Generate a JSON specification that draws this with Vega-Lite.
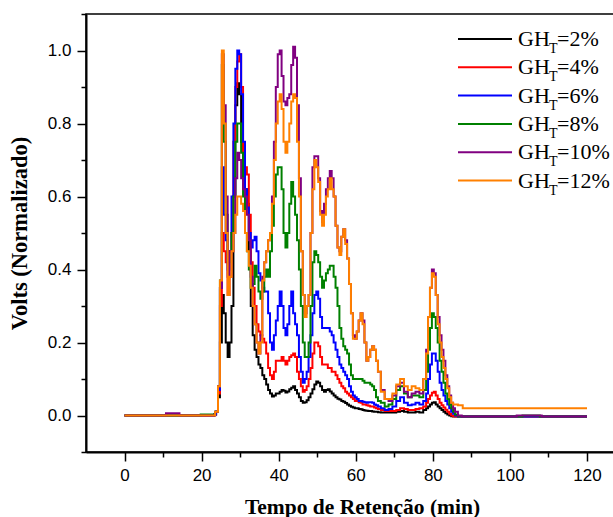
{
  "$schema": "https://vega.github.io/schema/vega-lite/v6.json",
  "width": 528,
  "height": 438,
  "autosize": {"type": "none"},
  "padding": {"left": 86, "top": 14, "right": 0, "bottom": 65},
  "background": "white",
  "config": {
    "view": {"stroke": "black", "strokeWidth": 1.5},
    "axis": {"grid": false, "domainColor": "black", "domainWidth": 2, "tickColor": "black", "tickWidth": 1.5, "labelColor": "black", "titleColor": "black"}
  },
  "data": {"values": [
    {"gh":2,"t":0,"v":0},{"gh":2,"t":23,"v":0},{"gh":2,"t":23.5,"v":0.003},
    {"gh":2,"t":24,"v":0.01},{"gh":2,"t":24.5,"v":0.05},{"gh":2,"t":25,"v":0.2},{"gh":2,"t":25.5,"v":0.33},{"gh":2,"t":26,"v":0.28},{"gh":2,"t":26.5,"v":0.2},{"gh":2,"t":27,"v":0.16},{"gh":2,"t":27.5,"v":0.2},{"gh":2,"t":28,"v":0.3},{"gh":2,"t":28.5,"v":0.6},{"gh":2,"t":29,"v":0.85},{"gh":2,"t":29.5,"v":0.91},{"gh":2,"t":30,"v":0.88},{"gh":2,"t":30.5,"v":0.75},{"gh":2,"t":31,"v":0.65},{"gh":2,"t":31.5,"v":0.62},{"gh":2,"t":32,"v":0.58},{"gh":2,"t":32.5,"v":0.45},{"gh":2,"t":33,"v":0.3},{"gh":2,"t":33.5,"v":0.22},{"gh":2,"t":34,"v":0.18},{"gh":2,"t":34.5,"v":0.16},{"gh":2,"t":35,"v":0.14},{"gh":2,"t":35.5,"v":0.13},{"gh":2,"t":36,"v":0.11},{"gh":2,"t":36.5,"v":0.1},{"gh":2,"t":37,"v":0.085},{"gh":2,"t":37.5,"v":0.07},{"gh":2,"t":38,"v":0.06},{"gh":2,"t":38.5,"v":0.052},{"gh":2,"t":39,"v":0.055},{"gh":2,"t":39.5,"v":0.06},{"gh":2,"t":40,"v":0.06},{"gh":2,"t":40.5,"v":0.065},{"gh":2,"t":41,"v":0.07},{"gh":2,"t":41.5,"v":0.068},{"gh":2,"t":42,"v":0.063},{"gh":2,"t":42.5,"v":0.066},{"gh":2,"t":43,"v":0.072},{"gh":2,"t":43.5,"v":0.076},{"gh":2,"t":44,"v":0.08},{"gh":2,"t":44.5,"v":0.07},{"gh":2,"t":45,"v":0.06},{"gh":2,"t":45.5,"v":0.05},{"gh":2,"t":46,"v":0.04},{"gh":2,"t":46.5,"v":0.035},{"gh":2,"t":47,"v":0.036},{"gh":2,"t":47.5,"v":0.042},{"gh":2,"t":48,"v":0.05},{"gh":2,"t":48.5,"v":0.06},{"gh":2,"t":49,"v":0.072},{"gh":2,"t":49.5,"v":0.085},{"gh":2,"t":50,"v":0.093},{"gh":2,"t":50.5,"v":0.09},{"gh":2,"t":51,"v":0.08},{"gh":2,"t":51.5,"v":0.07},{"gh":2,"t":52,"v":0.065},{"gh":2,"t":52.5,"v":0.07},{"gh":2,"t":53,"v":0.072},{"gh":2,"t":53.5,"v":0.066},{"gh":2,"t":54,"v":0.06},{"gh":2,"t":54.5,"v":0.055},{"gh":2,"t":55,"v":0.05},{"gh":2,"t":55.5,"v":0.046},{"gh":2,"t":56,"v":0.044},{"gh":2,"t":56.5,"v":0.04},{"gh":2,"t":57,"v":0.038},{"gh":2,"t":57.5,"v":0.034},{"gh":2,"t":58,"v":0.03},{"gh":2,"t":58.5,"v":0.027},{"gh":2,"t":59,"v":0.024},{"gh":2,"t":59.5,"v":0.022},{"gh":2,"t":60,"v":0.02},{"gh":2,"t":60.5,"v":0.02},{"gh":2,"t":61,"v":0.018},{"gh":2,"t":61.5,"v":0.017},{"gh":2,"t":62,"v":0.015},{"gh":2,"t":62.5,"v":0.014},{"gh":2,"t":63,"v":0.013},{"gh":2,"t":63.5,"v":0.012},{"gh":2,"t":64,"v":0.012},{"gh":2,"t":64.5,"v":0.011},{"gh":2,"t":65,"v":0.01},{"gh":2,"t":65.5,"v":0.01},{"gh":2,"t":66,"v":0.009},{"gh":2,"t":67,"v":0.008},{"gh":2,"t":68,"v":0.008},{"gh":2,"t":69,"v":0.008},{"gh":2,"t":70,"v":0.008},{"gh":2,"t":71,"v":0.01},{"gh":2,"t":72,"v":0.012},{"gh":2,"t":73,"v":0.01},{"gh":2,"t":74,"v":0.008},{"gh":2,"t":75,"v":0.008},{"gh":2,"t":76,"v":0.01},{"gh":2,"t":77,"v":0.008},{"gh":2,"t":78,"v":0.015},{"gh":2,"t":78.5,"v":0.02},{"gh":2,"t":79,"v":0.025},{"gh":2,"t":79.5,"v":0.03},{"gh":2,"t":80,"v":0.035},{"gh":2,"t":80.5,"v":0.036},{"gh":2,"t":81,"v":0.03},{"gh":2,"t":81.5,"v":0.025},{"gh":2,"t":82,"v":0.02},{"gh":2,"t":82.5,"v":0.015},{"gh":2,"t":83,"v":0.01},{"gh":2,"t":83.5,"v":0.006},{"gh":2,"t":84,"v":0.003},{"gh":2,"t":84.5,"v":0},{"gh":2,"t":85,"v":-0.002},{"gh":2,"t":85.5,"v":-0.003},{"gh":2,"t":86,"v":-0.003},{"gh":2,"t":87,"v":-0.003},{"gh":2,"t":120,"v":-0.003},

    {"gh":4,"t":0,"v":0},{"gh":4,"t":23,"v":0},{"gh":4,"t":23.5,"v":0.003},
    {"gh":4,"t":24,"v":0.01},{"gh":4,"t":24.5,"v":0.06},{"gh":4,"t":25,"v":0.3},{"gh":4,"t":25.5,"v":0.5},{"gh":4,"t":26,"v":0.45},{"gh":4,"t":26.5,"v":0.42},{"gh":4,"t":27,"v":0.33},{"gh":4,"t":27.5,"v":0.38},{"gh":4,"t":28,"v":0.5},{"gh":4,"t":28.5,"v":0.75},{"gh":4,"t":29,"v":0.9},{"gh":4,"t":29.5,"v":0.97},{"gh":4,"t":30,"v":0.99},{"gh":4,"t":30.5,"v":0.9},{"gh":4,"t":31,"v":0.72},{"gh":4,"t":31.5,"v":0.68},{"gh":4,"t":32,"v":0.66},{"gh":4,"t":32.5,"v":0.55},{"gh":4,"t":33,"v":0.42},{"gh":4,"t":33.5,"v":0.35},{"gh":4,"t":34,"v":0.3},{"gh":4,"t":34.5,"v":0.25},{"gh":4,"t":35,"v":0.23},{"gh":4,"t":35.5,"v":0.22},{"gh":4,"t":36,"v":0.21},{"gh":4,"t":36.5,"v":0.2},{"gh":4,"t":37,"v":0.17},{"gh":4,"t":37.5,"v":0.13},{"gh":4,"t":38,"v":0.11},{"gh":4,"t":38.5,"v":0.1},{"gh":4,"t":39,"v":0.12},{"gh":4,"t":39.5,"v":0.15},{"gh":4,"t":40,"v":0.15},{"gh":4,"t":40.5,"v":0.15},{"gh":4,"t":41,"v":0.16},{"gh":4,"t":41.5,"v":0.15},{"gh":4,"t":42,"v":0.14},{"gh":4,"t":42.5,"v":0.15},{"gh":4,"t":43,"v":0.16},{"gh":4,"t":43.5,"v":0.165},{"gh":4,"t":44,"v":0.17},{"gh":4,"t":44.5,"v":0.16},{"gh":4,"t":45,"v":0.12},{"gh":4,"t":45.5,"v":0.1},{"gh":4,"t":46,"v":0.08},{"gh":4,"t":46.5,"v":0.065},{"gh":4,"t":47,"v":0.07},{"gh":4,"t":47.5,"v":0.08},{"gh":4,"t":48,"v":0.1},{"gh":4,"t":48.5,"v":0.13},{"gh":4,"t":49,"v":0.17},{"gh":4,"t":49.5,"v":0.2},{"gh":4,"t":50,"v":0.2},{"gh":4,"t":50.5,"v":0.19},{"gh":4,"t":51,"v":0.16},{"gh":4,"t":51.5,"v":0.14},{"gh":4,"t":52,"v":0.14},{"gh":4,"t":52.5,"v":0.14},{"gh":4,"t":53,"v":0.13},{"gh":4,"t":53.5,"v":0.13},{"gh":4,"t":54,"v":0.12},{"gh":4,"t":54.5,"v":0.12},{"gh":4,"t":55,"v":0.11},{"gh":4,"t":55.5,"v":0.1},{"gh":4,"t":56,"v":0.09},{"gh":4,"t":56.5,"v":0.08},{"gh":4,"t":57,"v":0.075},{"gh":4,"t":57.5,"v":0.065},{"gh":4,"t":58,"v":0.06},{"gh":4,"t":58.5,"v":0.055},{"gh":4,"t":59,"v":0.05},{"gh":4,"t":59.5,"v":0.045},{"gh":4,"t":60,"v":0.04},{"gh":4,"t":60.5,"v":0.04},{"gh":4,"t":61,"v":0.036},{"gh":4,"t":61.5,"v":0.035},{"gh":4,"t":62,"v":0.03},{"gh":4,"t":62.5,"v":0.03},{"gh":4,"t":63,"v":0.028},{"gh":4,"t":63.5,"v":0.027},{"gh":4,"t":64,"v":0.025},{"gh":4,"t":64.5,"v":0.025},{"gh":4,"t":65,"v":0.022},{"gh":4,"t":65.5,"v":0.02},{"gh":4,"t":66,"v":0.018},{"gh":4,"t":67,"v":0.015},{"gh":4,"t":68,"v":0.012},{"gh":4,"t":69,"v":0.012},{"gh":4,"t":70,"v":0.012},{"gh":4,"t":71,"v":0.015},{"gh":4,"t":72,"v":0.02},{"gh":4,"t":73,"v":0.018},{"gh":4,"t":74,"v":0.015},{"gh":4,"t":75,"v":0.015},{"gh":4,"t":76,"v":0.018},{"gh":4,"t":77,"v":0.02},{"gh":4,"t":78,"v":0.025},{"gh":4,"t":78.5,"v":0.035},{"gh":4,"t":79,"v":0.045},{"gh":4,"t":79.5,"v":0.055},{"gh":4,"t":80,"v":0.062},{"gh":4,"t":80.5,"v":0.065},{"gh":4,"t":81,"v":0.055},{"gh":4,"t":81.5,"v":0.045},{"gh":4,"t":82,"v":0.035},{"gh":4,"t":82.5,"v":0.028},{"gh":4,"t":83,"v":0.022},{"gh":4,"t":83.5,"v":0.016},{"gh":4,"t":84,"v":0.01},{"gh":4,"t":84.5,"v":0.005},{"gh":4,"t":85,"v":0},{"gh":4,"t":85.5,"v":-0.002},{"gh":4,"t":86,"v":-0.003},{"gh":4,"t":87,"v":-0.003},{"gh":4,"t":120,"v":-0.003},

    {"gh":6,"t":0,"v":0},{"gh":6,"t":23,"v":0},{"gh":6,"t":23.5,"v":0.003},
    {"gh":6,"t":24,"v":0.01},{"gh":6,"t":24.5,"v":0.07},{"gh":6,"t":25,"v":0.35},{"gh":6,"t":25.5,"v":0.68},{"gh":6,"t":26,"v":0.55},{"gh":6,"t":26.5,"v":0.48},{"gh":6,"t":27,"v":0.4},{"gh":6,"t":27.5,"v":0.45},{"gh":6,"t":28,"v":0.6},{"gh":6,"t":28.5,"v":0.8},{"gh":6,"t":29,"v":0.95},{"gh":6,"t":29.5,"v":1.0},{"gh":6,"t":30,"v":0.99},{"gh":6,"t":30.5,"v":0.88},{"gh":6,"t":31,"v":0.75},{"gh":6,"t":31.5,"v":0.62},{"gh":6,"t":32,"v":0.57},{"gh":6,"t":32.5,"v":0.5},{"gh":6,"t":33,"v":0.46},{"gh":6,"t":33.5,"v":0.48},{"gh":6,"t":34,"v":0.49},{"gh":6,"t":34.5,"v":0.45},{"gh":6,"t":35,"v":0.39},{"gh":6,"t":35.5,"v":0.37},{"gh":6,"t":36,"v":0.35},{"gh":6,"t":36.5,"v":0.34},{"gh":6,"t":37,"v":0.34},{"gh":6,"t":37.5,"v":0.28},{"gh":6,"t":38,"v":0.2},{"gh":6,"t":38.5,"v":0.18},{"gh":6,"t":39,"v":0.22},{"gh":6,"t":39.5,"v":0.26},{"gh":6,"t":40,"v":0.3},{"gh":6,"t":40.5,"v":0.34},{"gh":6,"t":41,"v":0.3},{"gh":6,"t":41.5,"v":0.24},{"gh":6,"t":42,"v":0.22},{"gh":6,"t":42.5,"v":0.25},{"gh":6,"t":43,"v":0.3},{"gh":6,"t":43.5,"v":0.34},{"gh":6,"t":44,"v":0.28},{"gh":6,"t":44.5,"v":0.25},{"gh":6,"t":45,"v":0.22},{"gh":6,"t":45.5,"v":0.16},{"gh":6,"t":46,"v":0.12},{"gh":6,"t":46.5,"v":0.09},{"gh":6,"t":47,"v":0.1},{"gh":6,"t":47.5,"v":0.12},{"gh":6,"t":48,"v":0.16},{"gh":6,"t":48.5,"v":0.22},{"gh":6,"t":49,"v":0.28},{"gh":6,"t":49.5,"v":0.33},{"gh":6,"t":50,"v":0.34},{"gh":6,"t":50.5,"v":0.32},{"gh":6,"t":51,"v":0.27},{"gh":6,"t":51.5,"v":0.24},{"gh":6,"t":52,"v":0.24},{"gh":6,"t":52.5,"v":0.24},{"gh":6,"t":53,"v":0.24},{"gh":6,"t":53.5,"v":0.23},{"gh":6,"t":54,"v":0.22},{"gh":6,"t":54.5,"v":0.2},{"gh":6,"t":55,"v":0.18},{"gh":6,"t":55.5,"v":0.16},{"gh":6,"t":56,"v":0.14},{"gh":6,"t":56.5,"v":0.13},{"gh":6,"t":57,"v":0.12},{"gh":6,"t":57.5,"v":0.11},{"gh":6,"t":58,"v":0.1},{"gh":6,"t":58.5,"v":0.08},{"gh":6,"t":59,"v":0.065},{"gh":6,"t":59.5,"v":0.055},{"gh":6,"t":60,"v":0.05},{"gh":6,"t":60.5,"v":0.045},{"gh":6,"t":61,"v":0.04},{"gh":6,"t":61.5,"v":0.04},{"gh":6,"t":62,"v":0.038},{"gh":6,"t":62.5,"v":0.036},{"gh":6,"t":63,"v":0.035},{"gh":6,"t":63.5,"v":0.036},{"gh":6,"t":64,"v":0.036},{"gh":6,"t":64.5,"v":0.035},{"gh":6,"t":65,"v":0.03},{"gh":6,"t":65.5,"v":0.028},{"gh":6,"t":66,"v":0.025},{"gh":6,"t":67,"v":0.02},{"gh":6,"t":68,"v":0.015},{"gh":6,"t":69,"v":0.018},{"gh":6,"t":70,"v":0.025},{"gh":6,"t":71,"v":0.04},{"gh":6,"t":72,"v":0.05},{"gh":6,"t":73,"v":0.035},{"gh":6,"t":74,"v":0.028},{"gh":6,"t":75,"v":0.03},{"gh":6,"t":76,"v":0.035},{"gh":6,"t":77,"v":0.03},{"gh":6,"t":78,"v":0.04},{"gh":6,"t":78.5,"v":0.06},{"gh":6,"t":79,"v":0.1},{"gh":6,"t":79.5,"v":0.14},{"gh":6,"t":80,"v":0.17},{"gh":6,"t":80.5,"v":0.17},{"gh":6,"t":81,"v":0.15},{"gh":6,"t":81.5,"v":0.12},{"gh":6,"t":82,"v":0.09},{"gh":6,"t":82.5,"v":0.07},{"gh":6,"t":83,"v":0.055},{"gh":6,"t":83.5,"v":0.04},{"gh":6,"t":84,"v":0.03},{"gh":6,"t":84.5,"v":0.02},{"gh":6,"t":85,"v":0.01},{"gh":6,"t":85.5,"v":0.005},{"gh":6,"t":86,"v":0},{"gh":6,"t":87,"v":-0.003},{"gh":6,"t":120,"v":-0.003},

    {"gh":8,"t":0,"v":0},{"gh":8,"t":19.5,"v":0},{"gh":8,"t":20,"v":0.003},{"gh":8,"t":23,"v":0.003},
    {"gh":8,"t":24,"v":0.01},{"gh":8,"t":24.5,"v":0.08},{"gh":8,"t":25,"v":0.37},{"gh":8,"t":25.5,"v":0.96},{"gh":8,"t":26,"v":0.75},{"gh":8,"t":26.5,"v":0.55},{"gh":8,"t":27,"v":0.42},{"gh":8,"t":27.5,"v":0.45},{"gh":8,"t":28,"v":0.5},{"gh":8,"t":28.5,"v":0.6},{"gh":8,"t":29,"v":0.75},{"gh":8,"t":29.5,"v":0.8},{"gh":8,"t":30,"v":0.8},{"gh":8,"t":30.5,"v":0.72},{"gh":8,"t":31,"v":0.6},{"gh":8,"t":31.5,"v":0.5},{"gh":8,"t":32,"v":0.45},{"gh":8,"t":32.5,"v":0.4},{"gh":8,"t":33,"v":0.35},{"gh":8,"t":33.5,"v":0.36},{"gh":8,"t":34,"v":0.41},{"gh":8,"t":34.5,"v":0.38},{"gh":8,"t":35,"v":0.34},{"gh":8,"t":35.5,"v":0.32},{"gh":8,"t":36,"v":0.34},{"gh":8,"t":36.5,"v":0.38},{"gh":8,"t":37,"v":0.4},{"gh":8,"t":37.5,"v":0.38},{"gh":8,"t":38,"v":0.45},{"gh":8,"t":38.5,"v":0.52},{"gh":8,"t":39,"v":0.6},{"gh":8,"t":39.5,"v":0.66},{"gh":8,"t":40,"v":0.68},{"gh":8,"t":40.5,"v":0.68},{"gh":8,"t":41,"v":0.62},{"gh":8,"t":41.5,"v":0.5},{"gh":8,"t":42,"v":0.46},{"gh":8,"t":42.5,"v":0.5},{"gh":8,"t":43,"v":0.58},{"gh":8,"t":43.5,"v":0.64},{"gh":8,"t":44,"v":0.6},{"gh":8,"t":44.5,"v":0.55},{"gh":8,"t":45,"v":0.48},{"gh":8,"t":45.5,"v":0.4},{"gh":8,"t":46,"v":0.3},{"gh":8,"t":46.5,"v":0.2},{"gh":8,"t":47,"v":0.16},{"gh":8,"t":47.5,"v":0.16},{"gh":8,"t":48,"v":0.2},{"gh":8,"t":48.5,"v":0.3},{"gh":8,"t":49,"v":0.42},{"gh":8,"t":49.5,"v":0.45},{"gh":8,"t":50,"v":0.44},{"gh":8,"t":50.5,"v":0.42},{"gh":8,"t":51,"v":0.38},{"gh":8,"t":51.5,"v":0.35},{"gh":8,"t":52,"v":0.37},{"gh":8,"t":52.5,"v":0.39},{"gh":8,"t":53,"v":0.4},{"gh":8,"t":53.5,"v":0.41},{"gh":8,"t":54,"v":0.41},{"gh":8,"t":54.5,"v":0.38},{"gh":8,"t":55,"v":0.35},{"gh":8,"t":55.5,"v":0.3},{"gh":8,"t":56,"v":0.24},{"gh":8,"t":56.5,"v":0.21},{"gh":8,"t":57,"v":0.19},{"gh":8,"t":57.5,"v":0.18},{"gh":8,"t":58,"v":0.17},{"gh":8,"t":58.5,"v":0.14},{"gh":8,"t":59,"v":0.11},{"gh":8,"t":59.5,"v":0.1},{"gh":8,"t":60,"v":0.1},{"gh":8,"t":60.5,"v":0.1},{"gh":8,"t":61,"v":0.1},{"gh":8,"t":61.5,"v":0.1},{"gh":8,"t":62,"v":0.095},{"gh":8,"t":62.5,"v":0.09},{"gh":8,"t":63,"v":0.09},{"gh":8,"t":63.5,"v":0.09},{"gh":8,"t":64,"v":0.085},{"gh":8,"t":64.5,"v":0.08},{"gh":8,"t":65,"v":0.07},{"gh":8,"t":65.5,"v":0.05},{"gh":8,"t":66,"v":0.04},{"gh":8,"t":67,"v":0.035},{"gh":8,"t":68,"v":0.025},{"gh":8,"t":69,"v":0.03},{"gh":8,"t":70,"v":0.045},{"gh":8,"t":71,"v":0.07},{"gh":8,"t":72,"v":0.08},{"gh":8,"t":73,"v":0.06},{"gh":8,"t":74,"v":0.05},{"gh":8,"t":75,"v":0.055},{"gh":8,"t":76,"v":0.055},{"gh":8,"t":77,"v":0.05},{"gh":8,"t":78,"v":0.07},{"gh":8,"t":78.5,"v":0.12},{"gh":8,"t":79,"v":0.18},{"gh":8,"t":79.5,"v":0.24},{"gh":8,"t":80,"v":0.28},{"gh":8,"t":80.5,"v":0.27},{"gh":8,"t":81,"v":0.24},{"gh":8,"t":81.5,"v":0.2},{"gh":8,"t":82,"v":0.15},{"gh":8,"t":82.5,"v":0.12},{"gh":8,"t":83,"v":0.09},{"gh":8,"t":83.5,"v":0.06},{"gh":8,"t":84,"v":0.045},{"gh":8,"t":84.5,"v":0.03},{"gh":8,"t":85,"v":0.02},{"gh":8,"t":85.5,"v":0.01},{"gh":8,"t":86,"v":0.003},{"gh":8,"t":87,"v":-0.002},{"gh":8,"t":88,"v":-0.003},{"gh":8,"t":103,"v":-0.003},{"gh":8,"t":103.5,"v":0},{"gh":8,"t":107.5,"v":0},{"gh":8,"t":108,"v":-0.003},{"gh":8,"t":120,"v":-0.003},

    {"gh":10,"t":0,"v":0},{"gh":10,"t":10.5,"v":0},{"gh":10,"t":11,"v":0.006},{"gh":10,"t":14,"v":0.006},{"gh":10,"t":14.5,"v":0},{"gh":10,"t":23,"v":0},
    {"gh":10,"t":24,"v":0.01},{"gh":10,"t":24.5,"v":0.08},{"gh":10,"t":25,"v":0.35},{"gh":10,"t":25.5,"v":0.99},{"gh":10,"t":26,"v":0.85},{"gh":10,"t":26.5,"v":0.6},{"gh":10,"t":27,"v":0.38},{"gh":10,"t":27.5,"v":0.45},{"gh":10,"t":28,"v":0.45},{"gh":10,"t":28.5,"v":0.5},{"gh":10,"t":29,"v":0.65},{"gh":10,"t":29.5,"v":0.72},{"gh":10,"t":30,"v":0.7},{"gh":10,"t":30.5,"v":0.65},{"gh":10,"t":31,"v":0.62},{"gh":10,"t":31.5,"v":0.6},{"gh":10,"t":32,"v":0.55},{"gh":10,"t":32.5,"v":0.48},{"gh":10,"t":33,"v":0.38},{"gh":10,"t":33.5,"v":0.3},{"gh":10,"t":34,"v":0.25},{"gh":10,"t":34.5,"v":0.2},{"gh":10,"t":35,"v":0.17},{"gh":10,"t":35.5,"v":0.22},{"gh":10,"t":36,"v":0.38},{"gh":10,"t":36.5,"v":0.42},{"gh":10,"t":37,"v":0.45},{"gh":10,"t":37.5,"v":0.48},{"gh":10,"t":38,"v":0.5},{"gh":10,"t":38.5,"v":0.6},{"gh":10,"t":39,"v":0.75},{"gh":10,"t":39.5,"v":0.9},{"gh":10,"t":40,"v":0.99},{"gh":10,"t":40.5,"v":1.0},{"gh":10,"t":41,"v":0.93},{"gh":10,"t":41.5,"v":0.86},{"gh":10,"t":42,"v":0.85},{"gh":10,"t":42.5,"v":0.87},{"gh":10,"t":43,"v":0.88},{"gh":10,"t":43.5,"v":0.96},{"gh":10,"t":44,"v":1.01},{"gh":10,"t":44.5,"v":0.98},{"gh":10,"t":45,"v":0.85},{"gh":10,"t":45.5,"v":0.65},{"gh":10,"t":46,"v":0.45},{"gh":10,"t":46.5,"v":0.33},{"gh":10,"t":47,"v":0.28},{"gh":10,"t":47.5,"v":0.3},{"gh":10,"t":48,"v":0.33},{"gh":10,"t":48.5,"v":0.5},{"gh":10,"t":49,"v":0.68},{"gh":10,"t":49.5,"v":0.71},{"gh":10,"t":50,"v":0.71},{"gh":10,"t":50.5,"v":0.65},{"gh":10,"t":51,"v":0.56},{"gh":10,"t":51.5,"v":0.53},{"gh":10,"t":52,"v":0.58},{"gh":10,"t":52.5,"v":0.62},{"gh":10,"t":53,"v":0.65},{"gh":10,"t":53.5,"v":0.67},{"gh":10,"t":54,"v":0.65},{"gh":10,"t":54.5,"v":0.6},{"gh":10,"t":55,"v":0.52},{"gh":10,"t":55.5,"v":0.46},{"gh":10,"t":56,"v":0.45},{"gh":10,"t":56.5,"v":0.49},{"gh":10,"t":57,"v":0.51},{"gh":10,"t":57.5,"v":0.48},{"gh":10,"t":58,"v":0.43},{"gh":10,"t":58.5,"v":0.36},{"gh":10,"t":59,"v":0.28},{"gh":10,"t":59.5,"v":0.22},{"gh":10,"t":60,"v":0.21},{"gh":10,"t":60.5,"v":0.23},{"gh":10,"t":61,"v":0.26},{"gh":10,"t":61.5,"v":0.28},{"gh":10,"t":62,"v":0.26},{"gh":10,"t":62.5,"v":0.2},{"gh":10,"t":63,"v":0.15},{"gh":10,"t":63.5,"v":0.16},{"gh":10,"t":64,"v":0.18},{"gh":10,"t":64.5,"v":0.19},{"gh":10,"t":65,"v":0.18},{"gh":10,"t":65.5,"v":0.15},{"gh":10,"t":66,"v":0.12},{"gh":10,"t":67,"v":0.07},{"gh":10,"t":68,"v":0.045},{"gh":10,"t":69,"v":0.04},{"gh":10,"t":70,"v":0.055},{"gh":10,"t":71,"v":0.08},{"gh":10,"t":72,"v":0.09},{"gh":10,"t":73,"v":0.065},{"gh":10,"t":74,"v":0.05},{"gh":10,"t":75,"v":0.06},{"gh":10,"t":76,"v":0.065},{"gh":10,"t":77,"v":0.06},{"gh":10,"t":78,"v":0.1},{"gh":10,"t":78.5,"v":0.18},{"gh":10,"t":79,"v":0.27},{"gh":10,"t":79.5,"v":0.35},{"gh":10,"t":80,"v":0.4},{"gh":10,"t":80.5,"v":0.39},{"gh":10,"t":81,"v":0.33},{"gh":10,"t":81.5,"v":0.27},{"gh":10,"t":82,"v":0.22},{"gh":10,"t":82.5,"v":0.18},{"gh":10,"t":83,"v":0.15},{"gh":10,"t":83.5,"v":0.11},{"gh":10,"t":84,"v":0.08},{"gh":10,"t":84.5,"v":0.055},{"gh":10,"t":85,"v":0.035},{"gh":10,"t":85.5,"v":0.02},{"gh":10,"t":86,"v":0.01},{"gh":10,"t":87,"v":0},{"gh":10,"t":88,"v":-0.003},{"gh":10,"t":101.5,"v":-0.003},{"gh":10,"t":102,"v":0},{"gh":10,"t":108,"v":0},{"gh":10,"t":108.5,"v":-0.003},{"gh":10,"t":120,"v":-0.003},

    {"gh":12,"t":0,"v":0},{"gh":12,"t":23,"v":0},
    {"gh":12,"t":24,"v":0.01},{"gh":12,"t":24.5,"v":0.08},{"gh":12,"t":25,"v":0.37},{"gh":12,"t":25.5,"v":1.0},{"gh":12,"t":26,"v":0.8},{"gh":12,"t":26.5,"v":0.5},{"gh":12,"t":27,"v":0.33},{"gh":12,"t":27.5,"v":0.38},{"gh":12,"t":28,"v":0.45},{"gh":12,"t":28.5,"v":0.5},{"gh":12,"t":29,"v":0.55},{"gh":12,"t":29.5,"v":0.6},{"gh":12,"t":30,"v":0.6},{"gh":12,"t":30.5,"v":0.58},{"gh":12,"t":31,"v":0.56},{"gh":12,"t":31.5,"v":0.5},{"gh":12,"t":32,"v":0.45},{"gh":12,"t":32.5,"v":0.41},{"gh":12,"t":33,"v":0.35},{"gh":12,"t":33.5,"v":0.3},{"gh":12,"t":34,"v":0.25},{"gh":12,"t":34.5,"v":0.2},{"gh":12,"t":35,"v":0.17},{"gh":12,"t":35.5,"v":0.2},{"gh":12,"t":36,"v":0.37},{"gh":12,"t":36.5,"v":0.42},{"gh":12,"t":37,"v":0.45},{"gh":12,"t":37.5,"v":0.48},{"gh":12,"t":38,"v":0.5},{"gh":12,"t":38.5,"v":0.58},{"gh":12,"t":39,"v":0.7},{"gh":12,"t":39.5,"v":0.8},{"gh":12,"t":40,"v":0.86},{"gh":12,"t":40.5,"v":0.88},{"gh":12,"t":41,"v":0.84},{"gh":12,"t":41.5,"v":0.75},{"gh":12,"t":42,"v":0.72},{"gh":12,"t":42.5,"v":0.75},{"gh":12,"t":43,"v":0.8},{"gh":12,"t":43.5,"v":0.86},{"gh":12,"t":44,"v":0.88},{"gh":12,"t":44.5,"v":0.87},{"gh":12,"t":45,"v":0.75},{"gh":12,"t":45.5,"v":0.6},{"gh":12,"t":46,"v":0.45},{"gh":12,"t":46.5,"v":0.33},{"gh":12,"t":47,"v":0.27},{"gh":12,"t":47.5,"v":0.3},{"gh":12,"t":48,"v":0.33},{"gh":12,"t":48.5,"v":0.5},{"gh":12,"t":49,"v":0.62},{"gh":12,"t":49.5,"v":0.7},{"gh":12,"t":50,"v":0.68},{"gh":12,"t":50.5,"v":0.64},{"gh":12,"t":51,"v":0.55},{"gh":12,"t":51.5,"v":0.52},{"gh":12,"t":52,"v":0.55},{"gh":12,"t":52.5,"v":0.6},{"gh":12,"t":53,"v":0.62},{"gh":12,"t":53.5,"v":0.65},{"gh":12,"t":54,"v":0.62},{"gh":12,"t":54.5,"v":0.6},{"gh":12,"t":55,"v":0.52},{"gh":12,"t":55.5,"v":0.46},{"gh":12,"t":56,"v":0.44},{"gh":12,"t":56.5,"v":0.49},{"gh":12,"t":57,"v":0.51},{"gh":12,"t":57.5,"v":0.47},{"gh":12,"t":58,"v":0.43},{"gh":12,"t":58.5,"v":0.36},{"gh":12,"t":59,"v":0.28},{"gh":12,"t":59.5,"v":0.21},{"gh":12,"t":60,"v":0.21},{"gh":12,"t":60.5,"v":0.23},{"gh":12,"t":61,"v":0.26},{"gh":12,"t":61.5,"v":0.28},{"gh":12,"t":62,"v":0.25},{"gh":12,"t":62.5,"v":0.2},{"gh":12,"t":63,"v":0.15},{"gh":12,"t":63.5,"v":0.16},{"gh":12,"t":64,"v":0.18},{"gh":12,"t":64.5,"v":0.19},{"gh":12,"t":65,"v":0.18},{"gh":12,"t":65.5,"v":0.15},{"gh":12,"t":66,"v":0.12},{"gh":12,"t":67,"v":0.065},{"gh":12,"t":68,"v":0.045},{"gh":12,"t":69,"v":0.045},{"gh":12,"t":70,"v":0.06},{"gh":12,"t":71,"v":0.085},{"gh":12,"t":72,"v":0.1},{"gh":12,"t":73,"v":0.08},{"gh":12,"t":74,"v":0.07},{"gh":12,"t":75,"v":0.08},{"gh":12,"t":76,"v":0.075},{"gh":12,"t":77,"v":0.07},{"gh":12,"t":78,"v":0.1},{"gh":12,"t":78.5,"v":0.17},{"gh":12,"t":79,"v":0.27},{"gh":12,"t":79.5,"v":0.35},{"gh":12,"t":80,"v":0.39},{"gh":12,"t":80.5,"v":0.38},{"gh":12,"t":81,"v":0.33},{"gh":12,"t":81.5,"v":0.25},{"gh":12,"t":82,"v":0.2},{"gh":12,"t":82.5,"v":0.16},{"gh":12,"t":83,"v":0.13},{"gh":12,"t":83.5,"v":0.1},{"gh":12,"t":84,"v":0.075},{"gh":12,"t":84.5,"v":0.05},{"gh":12,"t":85,"v":0.035},{"gh":12,"t":85.5,"v":0.03},{"gh":12,"t":86,"v":0.03},{"gh":12,"t":87,"v":0.028},{"gh":12,"t":88.5,"v":0.02},{"gh":12,"t":120,"v":0.02}
  ]},
  "mark": {"type": "line", "interpolate": "step", "strokeWidth": 2},
  "encoding": {
    "x": {
      "field": "t", "type": "quantitative",
      "scale": {"domain": [-10, 127], "nice": false, "zero": false},
      "axis": {
        "title": "Tempo de Retenção (min)",
        "values": [0, 10, 20, 30, 40, 50, 60, 70, 80, 90, 100, 110, 120],
        "labelExpr": "datum.value % 20 == 0 ? datum.label : ''",
        "tickSize": {"condition": {"test": "datum.value % 20 == 0", "value": 9}, "value": 5},
        "labelFont": "Liberation Sans", "labelFontSize": 17, "labelPadding": 6,
        "titleFont": "Liberation Serif", "titleFontSize": 21.5, "titleFontWeight": "bold",
        "titleX": 276, "titleY": 61, "titleBaseline": "alphabetic"
      }
    },
    "y": {
      "field": "v", "type": "quantitative",
      "scale": {"domain": [-0.1, 1.1], "nice": false, "zero": false},
      "axis": {
        "title": "Volts (Normalizado)",
        "values": [-0.1, 0, 0.1, 0.2, 0.3, 0.4, 0.5, 0.6, 0.7, 0.8, 0.9, 1.0, 1.1],
        "labelExpr": "abs(round(datum.value * 10)) % 2 == 0 ? format(datum.value, '.1f') : ''",
        "tickSize": {"condition": {"test": "abs(round(datum.value * 10)) % 2 == 0", "value": 9}, "value": 5},
        "labelFont": "Liberation Sans", "labelFontSize": 17, "labelPadding": 6,
        "encoding": {"labels": {"update": {"dx": {"value": -5}}}},
        "titleFont": "Liberation Serif", "titleFontSize": 22.5, "titleFontWeight": "bold",
        "titleX": -60, "titleY": 219, "titleBaseline": "alphabetic", "titleAngle": -90
      }
    },
    "color": {
      "field": "gh", "type": "nominal",
      "scale": {"range": ["#000000", "#FF0000", "#0000FF", "#008000", "#800080", "#FF8000"]},
      "legend": {
        "orient": "none", "legendX": 371, "legendY": 11, "title": null, "padding": 0,
        "symbolType": "stroke", "symbolSize": 2916, "symbolStrokeWidth": 2,
        "labelFont": "Liberation Serif", "labelFontSize": 22, "labelColor": "black",
        "labelOffset": 5, "labelBaseline": "middle", "labelLimit": 0,
        "clipHeight": 28, "rowPadding": 0.3,
        "labelExpr": "'GH\u2004=' + datum.label + '%'"
      }
    },
    "strokeDash": {
      "field": "gh", "type": "nominal",
      "scale": {"domain": [2, 4, 6, 8, 10, 12], "range": [[1, 0], [1, 0], [1, 0], [1, 0], [1, 0], [1, 0]]},
      "legend": {
        "orient": "none", "legendX": 449, "legendY": 21, "title": null, "padding": 0,
        "symbolSize": 0, "symbolStrokeWidth": 0, "symbolOpacity": 0,
        "labelFont": "Liberation Serif", "labelFontSize": 14, "labelColor": "black",
        "labelOffset": 0, "labelBaseline": "middle", "labelLimit": 0,
        "clipHeight": 28, "rowPadding": 0.3,
        "labelExpr": "'T'"
      }
    }
  }
}
